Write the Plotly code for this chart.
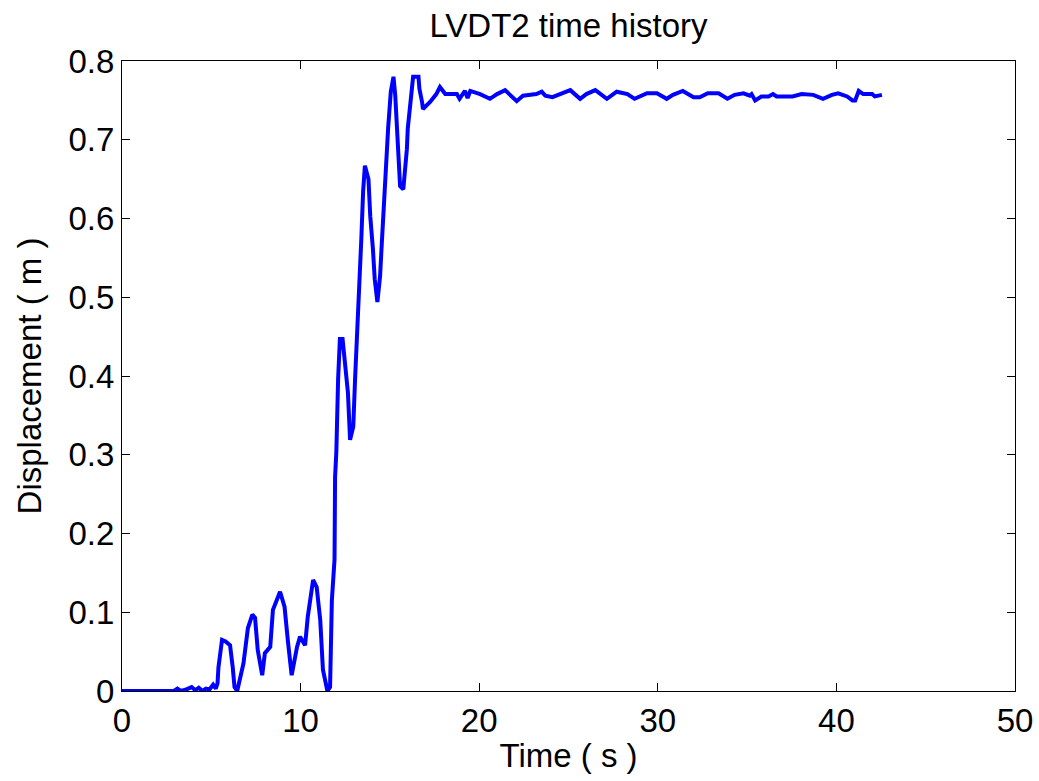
import plotly.graph_objects as go

time_s = [0, 2.9, 3.1, 3.3, 3.6, 3.9, 4.1, 4.3, 4.5, 4.7, 4.9, 5.1, 5.25, 5.35, 5.4, 5.6, 5.8, 6.05, 6.2, 6.3, 6.45,
          6.8, 7.05, 7.3, 7.45, 7.6, 7.85, 8.0, 8.3, 8.45, 8.85, 9.1, 9.3, 9.5, 9.8, 9.97, 10.25, 10.4, 10.7, 10.9,
          11.1, 11.25, 11.5, 11.65, 11.75, 11.9, 11.93, 12.0, 12.1, 12.2, 12.35, 12.5, 12.65, 12.77, 12.95, 13.05,
          13.2, 13.3, 13.4, 13.5, 13.6, 13.8, 13.9, 14.05, 14.15, 14.3, 14.45, 14.55, 14.65, 14.8, 14.9, 15.05,
          15.2, 15.3, 15.4, 15.47, 15.57, 15.75, 15.85, 15.95, 16.0, 16.1, 16.2, 16.3, 16.6, 16.65, 16.8, 16.85,
          17.25, 17.6, 17.8, 18.1, 18.75, 18.9, 19.2, 19.35, 19.5, 20.05, 20.6, 21.0, 21.45, 21.7, 22.1, 22.45,
          23.2, 23.5, 23.7, 24.1, 24.6, 25.1, 25.65, 26.0, 26.5, 27.15, 27.7, 28.3, 28.7, 29.4, 29.95, 30.5,
          30.85, 31.4, 32.0, 32.35, 32.8, 33.4, 33.9, 34.3, 34.8, 35.15, 35.25, 35.45, 35.8, 36.2, 36.45, 36.65,
          37.55, 38.05, 38.7, 39.25, 39.75, 40.1, 40.6, 40.9, 41.05, 41.25, 41.5, 42.0, 42.15, 42.55]

displacement_m = [0, 0, 0.003, 0.0, 0.002, 0.005, 0.001, 0.004, 0.0, 0.003, 0.002, 0.008, 0.003, 0.01, 0.03, 0.065,
                  0.063, 0.058, 0.03, 0.005, 0.0, 0.035, 0.08, 0.097, 0.093, 0.052, 0.02, 0.048, 0.056, 0.103,
                  0.126, 0.107, 0.061, 0.02, 0.056, 0.069, 0.058, 0.094, 0.141, 0.132, 0.09, 0.027, 0.0, 0.005,
                  0.115, 0.167, 0.272, 0.303, 0.396, 0.447, 0.447, 0.412, 0.379, 0.319, 0.336, 0.396, 0.463,
                  0.527, 0.574, 0.634, 0.667, 0.65, 0.603, 0.561, 0.523, 0.494, 0.527, 0.57, 0.616, 0.667, 0.714,
                  0.761, 0.78, 0.756, 0.71, 0.667, 0.641, 0.637, 0.659, 0.688, 0.714, 0.735, 0.761, 0.78, 0.78,
                  0.765, 0.748, 0.739, 0.748, 0.758, 0.767, 0.758, 0.758, 0.752, 0.762, 0.753, 0.762, 0.758,
                  0.752, 0.758, 0.763, 0.758, 0.749, 0.756, 0.758, 0.761, 0.756, 0.754, 0.758, 0.763, 0.752,
                  0.758, 0.763, 0.752, 0.761, 0.758, 0.752, 0.759, 0.759, 0.752, 0.757, 0.762, 0.754, 0.754,
                  0.759, 0.759, 0.752, 0.757, 0.759, 0.756, 0.758, 0.75, 0.755, 0.755, 0.758, 0.755, 0.755,
                  0.758, 0.757, 0.752, 0.757, 0.759, 0.755, 0.75, 0.75, 0.762, 0.758, 0.758, 0.755, 0.757]

x_ticks = [0, 10, 20, 30, 40, 50]
y_ticks = [0, 0.1, 0.2, 0.3, 0.4, 0.5, 0.6, 0.7, 0.8]
y_tick_text = ["0", "0.1", "0.2", "0.3", "0.4", "0.5", "0.6", "0.7", "0.8"]

FONT = "Liberation Sans, Arial, sans-serif"
FS = 33

fig = go.Figure()
fig.add_trace(go.Scatter(x=time_s, y=displacement_m, mode="lines",
                         line=dict(color="#0000FF", width=4), showlegend=False))

axis_common = dict(showline=True, linecolor="black", linewidth=1, mirror="allticks",
                   ticks="inside", ticklen=8, tickcolor="black", showgrid=False, zeroline=False,
                   automargin=False,
                   tickfont=dict(family=FONT, size=FS, color="black"))

fig.update_layout(
    width=1039, height=781,
    margin=dict(l=122, r=24, t=61, b=90),
    paper_bgcolor="white", plot_bgcolor="white",
    title=dict(text="LVDT2 time history", x=0.5, xref="paper", xanchor="center", y=0.968, yanchor="middle",
               font=dict(family=FONT, size=FS, color="black")),
    xaxis=dict(range=[0, 50], tickvals=x_ticks, ticktext=[str(v) for v in x_ticks],
               title=dict(text="Time ( s )", font=dict(family=FONT, size=FS, color="black"), standoff=6),
               **axis_common),
    yaxis=dict(range=[0, 0.8], tickvals=y_ticks, ticktext=y_tick_text,
               title=dict(text="Displacement ( m )", font=dict(family=FONT, size=FS, color="black"), standoff=16),
               **axis_common),
)

fig.write_html("out.html")
